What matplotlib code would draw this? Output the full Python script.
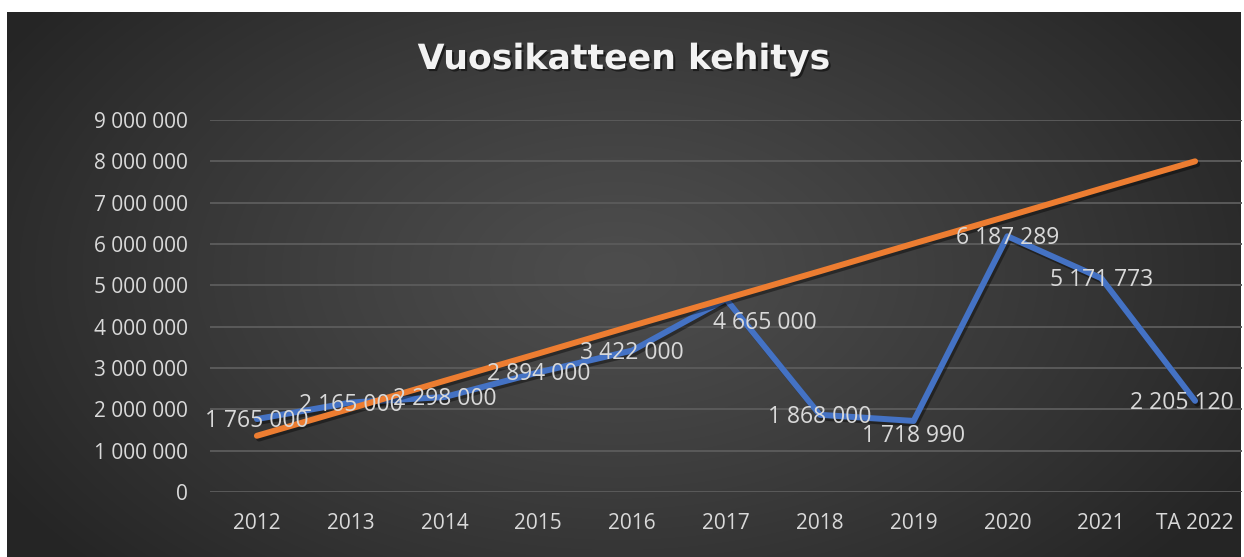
import numpy as np
import matplotlib
matplotlib.use("Agg")
import matplotlib.pyplot as plt
import matplotlib.patheffects as pe
from matplotlib.ticker import FuncFormatter

# data
years = ["2012", "2013", "2014", "2015", "2016", "2017", "2018", "2019", "2020", "2021", "TA 2022"]
vuosikate = [1765000, 2165000, 2298000, 2894000, 3422000, 4665000,
             1868000, 1718990, 6187289, 5171773, 2205120]
trendi = [1360000, 2020000, 2690000, 3350000, 4020000, 4680000,
          5340000, 6010000, 6670000, 7340000, 8000000]
y_ticks = [0, 1000000, 2000000, 3000000, 4000000, 5000000,
           6000000, 7000000, 8000000, 9000000]

# label nudges in pixels (most labels sit centered on their point)
label_shift = {5: (39, -24), 7: (0, -15), 10: (-13, -2)}

W, H = 1244, 557
fig = plt.figure(figsize=(W / 100, H / 100), dpi=100, facecolor="white")

# dark radial background like the Excel chart style
bg = fig.add_axes([7 / W, 0, (1241 - 7) / W, (H - 12) / H], zorder=-5)
bw, bh = 1234, 545
yy, xx = np.mgrid[0:bh, 0:bw]
r = np.sqrt(((xx - 610) / 720.0) ** 2 + ((yy - 260) / 440.0) ** 2)
shade = 0x4d - (0x4d - 0x25) * np.clip(r, 0, 1) ** 1.2
img = np.dstack([shade, shade, shade]) / 255.0
bg.imshow(img, aspect="auto", interpolation="bilinear")
bg.axis("off")

ax = fig.add_axes([210 / W, 65 / H, 1032 / W, 372 / H])
ax.set_facecolor("none")
x = np.arange(len(years))

shadow = [pe.SimpleLineShadow(offset=(1.5, -2), shadow_color="black", alpha=0.4),
          pe.Normal()]
ax.plot(x, vuosikate, color="#4472C4", lw=4.3, solid_joinstyle="round",
        solid_capstyle="round", path_effects=shadow, zorder=3)
ax.plot(x, trendi, color="#ED7D31", lw=4.3, solid_capstyle="round",
        path_effects=shadow, zorder=4)

def fmt(v, pos=None):
    return f"{int(v):,}".replace(",", " ")

for i, v in enumerate(vuosikate):
    dx, dy = label_shift.get(i, (0, -2))
    ax.annotate(fmt(v), (i, v), xytext=(dx, dy), textcoords="offset pixels",
                ha="center", va="center", fontsize=16.5, color="#d9d9d9",
                family="Open Sans", zorder=6)

ax.set_xlim(-0.5, len(years) - 0.5)
ax.set_ylim(0, 9000000)
ax.set_yticks(y_ticks)
ax.yaxis.set_major_formatter(FuncFormatter(fmt))
ax.set_xticks(x)
ax.set_xticklabels(years)
for lab in ax.get_xticklabels() + ax.get_yticklabels():
    lab.set_family("Open Sans")
ax.tick_params(axis="both", length=0, colors="#d9d9d9", labelsize=15)
ax.tick_params(axis="y", pad=16)
ax.tick_params(axis="x", pad=15)
ax.yaxis.grid(True, color="#5a5a5a", lw=1.4)
ax.set_axisbelow(True)
for s in ax.spines.values():
    s.set_visible(False)

fig.text(624 / W, 1 - 69 / H, "Vuosikatteen kehitys", ha="center", va="baseline",
         fontsize=25, fontweight="bold", color="#f2f2f2", family="DejaVu Sans",
         path_effects=[pe.withSimplePatchShadow(offset=(1.5, -1.5),
                                                shadow_rgbFace="black", alpha=0.5)])

fig.savefig("out.png", dpi=100, facecolor="white")
